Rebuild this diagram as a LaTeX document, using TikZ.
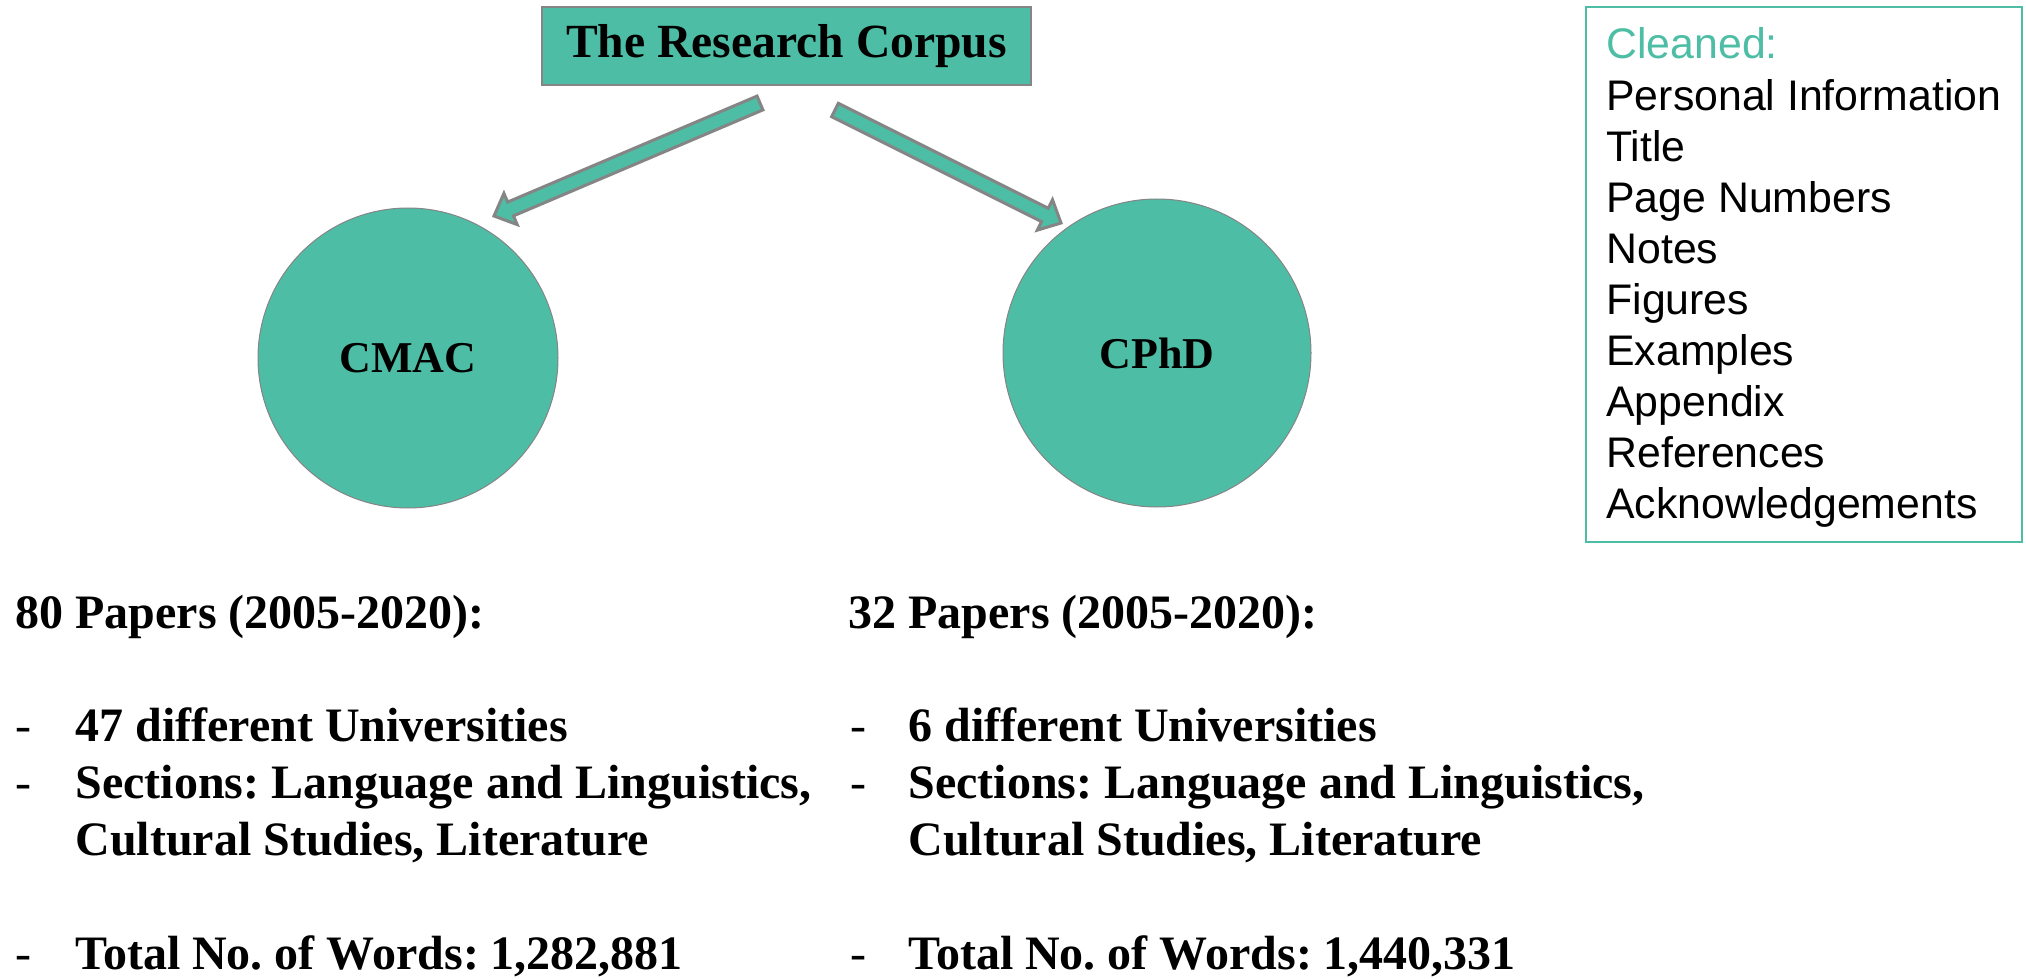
\documentclass[tikz,border=0pt]{standalone}
\usepackage{fontspec}
\setmainfont{Liberation Serif}
\newfontfamily\arialfont{Liberation Sans}
\usetikzlibrary{calc}
\definecolor{tealfill}{HTML}{4DBEA5}
\definecolor{edgegray}{HTML}{858585}
\newcommand\corpusarrow[3]{%
  \draw[blockarrow] ($(#1)!3.75pt!90:(#2)$) -- ($(#3)!3.75pt!90:(#2)$) -- ($(#3)!8.5pt!90:(#2)$) -- (#2)
    -- ($(#3)!8.5pt!-90:(#2)$) -- ($(#3)!3.75pt!-90:(#2)$) -- ($(#1)!3.75pt!-90:(#2)$) -- cycle;}
\frenchspacing
\begin{document}
\begin{tikzpicture}[x=0.5pt,y=-0.5pt,
  titlebox/.style={draw=edgegray,line width=1.2pt,fill=tealfill,minimum width=244.5pt,minimum height=39pt,inner sep=0pt,
    font=\fontsize{23.8}{28}\selectfont\bfseries},
  corpus/.style={circle,draw=edgegray,line width=0.5pt,fill=tealfill,inner sep=0pt,
    font=\fontsize{22}{26}\selectfont\bfseries},
  blockarrow/.style={draw=edgegray,line width=1.5pt,fill=tealfill,line join=miter},
  infoline/.style={anchor=base west,inner sep=0pt,font=\fontsize{24}{28}\selectfont\bfseries},
  dashline/.style={anchor=base west,inner sep=0pt,font=\fontsize{24}{28}\selectfont},
  cleanline/.style={anchor=base west,inner sep=0pt,font=\arialfont\fontsize{21.4}{24}\selectfont},
  cleanbox/.style={draw=tealfill,line width=1pt}
]
\useasboundingbox (0,0) rectangle (2026,979);

% title and circles
\node[titlebox] (title) at (786.5,46) {The Research Corpus};
\node[corpus,minimum size=150pt] (cmac) at (408,358) {CMAC};
\node[corpus,minimum size=154pt] (cphd) at (1157,353) {CPhD};

% block arrows
\coordinate (lt) at (760,103);
\coordinate (lh) at (494,216);
\coordinate (lb) at ($(lh)!9pt!(lt)$);
\coordinate (rt) at (835,110);
\coordinate (rh) at (1061,223);
\coordinate (rb) at ($(rh)!9pt!(rt)$);
\corpusarrow{lt}{lh}{lb}
\corpusarrow{rt}{rh}{rb}

% cleaned box
\draw[cleanbox] (1586,7) rectangle (2022,542);
\node[cleanline,text=tealfill] (c0) at (1606,59) {Cleaned:};
\node[cleanline] (c1) at (1606,110.1) {Personal Information};
\node[cleanline] (c2) at (1606,161.2) {Title};
\node[cleanline] (c3) at (1606,212.3) {Page Numbers};
\node[cleanline] (c4) at (1606,263.4) {Notes};
\node[cleanline] (c5) at (1606,314.5) {Figures};
\node[cleanline] (c6) at (1606,365.6) {Examples};
\node[cleanline] (c7) at (1606,416.7) {Appendix};
\node[cleanline] (c8) at (1606,467.8) {References};
\node[cleanline] (c9) at (1606,518.9) {Acknowledgements};

% left column
\node[infoline] (lh0) at (15,628) {80 Papers (2005-2020):};
\node[dashline] (ld1) at (15,741) {-};
\node[infoline] (l1) at (75,741) {47 different Universities};
\node[dashline] (ld2) at (15,798) {-};
\node[infoline] (l2) at (75,798) {Sections: Language and Linguistics,};
\node[infoline] (l3) at (75,855) {Cultural Studies, Literature};
\node[dashline] (ld4) at (15,969) {-};
\node[infoline] (l4) at (75,969) {Total No. of Words: 1,282,881};

% right column
\node[infoline] (rh0) at (848,628) {32 Papers (2005-2020):};
\node[dashline] (rd1) at (850,741) {-};
\node[infoline] (r1) at (908,741) {6 different Universities};
\node[dashline] (rd2) at (850,798) {-};
\node[infoline] (r2) at (908,798) {Sections: Language and Linguistics,};
\node[infoline] (r3) at (908,855) {Cultural Studies, Literature};
\node[dashline] (rd4) at (850,969) {-};
\node[infoline] (r4) at (908,969) {Total No. of Words: 1,440,331};
\end{tikzpicture}
\end{document}
